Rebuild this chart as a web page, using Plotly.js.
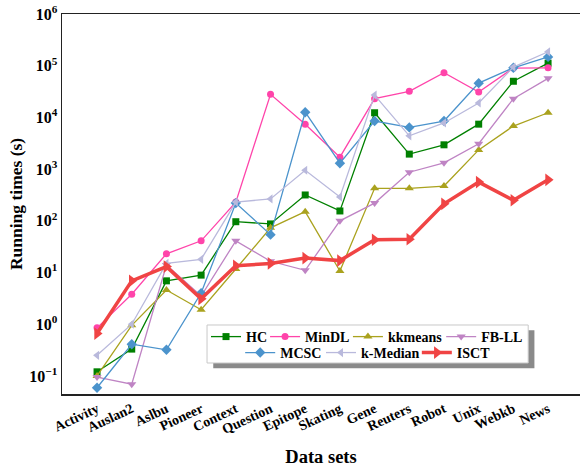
<!DOCTYPE html>
<html><head><meta charset="utf-8">
<script src="https://cdn.plot.ly/plotly-3.0.1.min.js"></script>
<style>html,body{margin:0;padding:0;background:#fff}#chart{width:580px;height:468px}</style>
</head><body><div id="chart"></div>
<script>
const datasets = ["Activity","Auslan2","Aslbu","Pioneer","Context","Question","Epitope","Skating","Gene","Reuters","Robot","Unix","Webkb","News"];
const HC      = [0.12, 0.33, 6.9, 8.9, 96, 87, 316, 155, 12300, 1950, 2950, 7400, 50000, 112000];
const MinDL   = [0.85, 3.8, 23, 41, 230, 28000, 7400, 1700, 23000, 32000, 73000, 31000, 90000, 91000];
const kkmeans = [0.10, 0.95, 4.6, 1.9, 11.7, 73, 150, 10.7, 425, 425, 470, 2350, 6800, 12300];
const FBLL    = [0.095, 0.069, 14, 3.5, 41, 16.5, 11, 100, 220, 870, 1320, 3100, 23000, 57000];
const MCSC    = [0.059, 0.41, 0.32, 4.0, 220, 54, 12600, 1300, 8500, 6400, 8500, 46000, 91000, 148000];
const kMedian = [0.25, 1.0, 15, 18, 230, 265, 950, 290, 27000, 4400, 7800, 19000, 94000, 186000];
const ISCT    = [0.66, 6.9, 13, 3.1, 13.5, 15, 19, 17, 43, 44, 213, 560, 250, 620];
const yTickVals = [0.1, 1, 10, 100, 1000, 10000, 100000, 1000000];
const yTickText = ["10<sup>\u22121</sup>","10<sup>0</sup>","10<sup>1</sup>","10<sup>2</sup>","10<sup>3</sup>","10<sup>4</sup>","10<sup>5</sup>","10<sup>6</sup>"];

const F = "'Liberation Serif', 'Times New Roman', serif";
function tr(name, y, color, symbol, size, width, legend){
  return {x: datasets, y: y, name: name, type: "scatter", mode: "lines+markers",
    line: {color: color, width: width}, marker: {symbol: symbol, size: size, color: color},
    legend: legend};
}
const data = [
  tr("HC", HC, "#008000", "square", 7, 1.3, "legend"),
  tr("MinDL", MinDL, "#ff44aa", "circle", 7, 1.3, "legend2"),
  tr("kkmeans", kkmeans, "#aaa21e", "triangle-up", 8, 1.3, "legend3"),
  tr("FB-LL", FBLL, "#bf84c4", "triangle-down", 8, 1.3, "legend4"),
  tr("MCSC", MCSC, "#4b93cc", "diamond", 8, 1.3, "legend5"),
  tr("k-Median", kMedian, "#b9b9dc", "triangle-left", 8, 1.3, "legend6"),
  tr("ISCT", ISCT, "#f04444", "triangle-right", 11, 3.5, "legend7")
];
const legFont = {family: F, size: 14, color: "#000", weight: "bold"};
function leg(x, y){
  return {orientation: "h", x: x, xanchor: "left", y: y, yanchor: "middle",
    bgcolor: "rgba(0,0,0,0)", font: legFont, itemwidth: 30};
}
const layout = {
  width: 580, height: 468,
  margin: {l: 62, r: 0, t: 14, b: 74},
  paper_bgcolor: "#fff", plot_bgcolor: "#fff",
  font: {family: F, color: "#000"},
  xaxis: {type: "category", range: [-1.01, 13.92], showgrid: false, zeroline: false,
    showline: true, mirror: true, linecolor: "#222", linewidth: 1.5, ticks: "",
    tickangle: -25, tickfont: {family: F, size: 14, weight: "bold", color: "#000"},
    title: {text: "Data sets", font: {family: F, size: 18.5, weight: "bold", color: "#000"}, standoff: 14}},
  yaxis: {type: "log", range: [-1.35, 6], showgrid: false, zeroline: false,
    showline: true, mirror: true, linecolor: "#222", linewidth: 1.5, ticks: "",
    tickvals: yTickVals, ticktext: yTickText,
    tickfont: {family: F, size: 16, weight: "bold", color: "#000"},
    title: {text: "Running times (s)", font: {family: F, size: 17.5, weight: "bold", color: "#000"}, standoff: 2}},
  showlegend: true,
  legend:  leg(0.278, 0.150),
  legend2: leg(0.392, 0.150),
  legend3: leg(0.552, 0.150),
  legend4: leg(0.732, 0.150),
  legend5: leg(0.344, 0.108),
  legend6: leg(0.500, 0.108),
  legend7: leg(0.685, 0.108),
  shapes: [
    {type: "rect", xref: "paper", yref: "paper", x0: 0.292, x1: 0.912, y0: 0.068, y1: 0.168,
      fillcolor: "#8a8a8a", line: {width: 0}, layer: "above"},
    {type: "rect", xref: "paper", yref: "paper", x0: 0.280, x1: 0.900, y0: 0.0816, y1: 0.1816,
      fillcolor: "#fff", line: {color: "#c8c8c8", width: 1}, layer: "above"}
  ]
};
Plotly.newPlot("chart", data, layout, {displayModeBar: false, staticPlot: true});
</script></body></html>
